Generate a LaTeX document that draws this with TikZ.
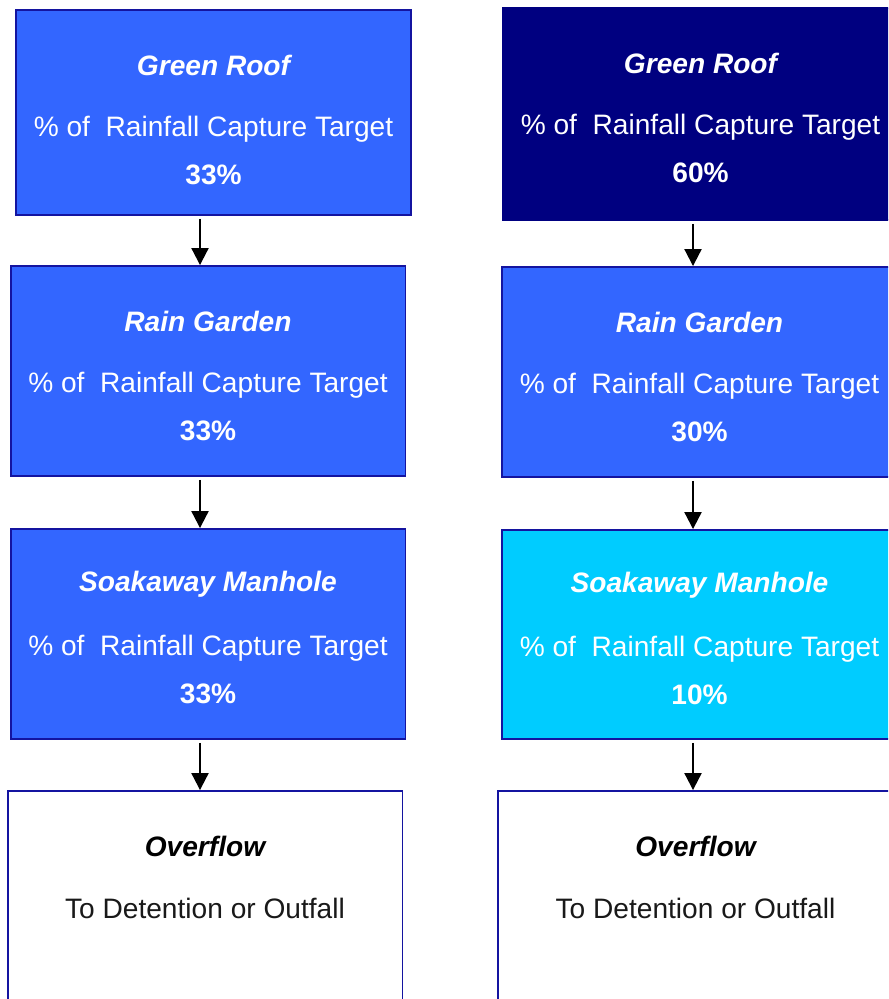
\documentclass[tikz,border=0pt]{standalone}
\usepackage{fontspec}
\setmainfont{Liberation Sans}
\usetikzlibrary{arrows.meta}
\definecolor{bmpblue}{HTML}{3366FF}
\definecolor{bmpnavy}{HTML}{000080}
\definecolor{bmpcyan}{HTML}{00CCFF}
\definecolor{bmpedge}{HTML}{1414A0}
\tikzstyle{bmp}=[rectangle,draw=bmpedge,line width=1.1pt,minimum width=7.9cm,inner sep=0pt]
\tikzstyle{bmptitle}=[font=\fontsize{16}{19}\selectfont\bfseries\itshape,text=white]
\tikzstyle{bmpbody}=[font=\fontsize{16}{19}\selectfont,text=white]
\tikzstyle{bmppct}=[font=\fontsize{16}{19}\selectfont\bfseries,text=white]
\tikzstyle{flow}=[draw,line width=1.2pt,shorten <=0.06cm,-{Triangle[length=0.34cm,width=0.34cm]}]

\begin{document}
\begin{tikzpicture}[x=0.02cm,y=-0.02cm]
    \useasboundingbox (0,0) rectangle (888,999);
    \clip (0,0) rectangle (888,999);

    % boxes, left column then right column
    \foreach \pos/\name/\h/\colour/\edge in {{(213.5,112.5)/gr1/4.1/bmpblue/bmpedge}, {(208,371)/rg1/4.2/bmpblue/bmpedge}, {(208,634)/sm1/4.2/bmpblue/bmpedge}, {(205,896)/of1/4.2/white/bmpedge},
        {(700.5,114)/gr2/4.24/bmpnavy/bmpnavy}, {(699.5,372)/rg2/4.2/bmpblue/bmpedge}, {(699.5,634.5)/sm2/4.18/bmpcyan/bmpedge}, {(695.5,896)/of2/4.2/white/bmpedge}}
        \node[bmp,fill=\colour,draw=\edge,minimum height=\h cm] (\name) at \pos {};

    % what each box says
    \foreach \name/\ttl/\val in {gr1/Green Roof/33\%, rg1/Rain Garden/33\%, sm1/Soakaway Manhole/33\%,
        gr2/Green Roof/60\%, rg2/Rain Garden/30\%, sm2/Soakaway Manhole/10\%}
    {
        \node[bmptitle] (\name-t) at ([yshift=-1.12cm]\name.north) {\ttl};
        \node[bmpbody] (\name-b) at ([yshift=-2.4cm]\name.north) {\% of\ \ Rainfall Capture Target};
        \node[bmppct] (\name-p) at ([yshift=-3.32cm]\name.north) {\val};
    }

    \foreach \name in {of1, of2}
    {
        \node[bmptitle,text=black] (\name-t) at ([yshift=-1.12cm]\name.north) {Overflow};
        \node[bmpbody,text=black!90] (\name-b) at ([yshift=-2.36cm]\name.north) {To Detention or Outfall};
    }

    % arrows down each column
    \foreach \source/\dest/\x in {gr1/rg1/200, rg1/sm1/200, sm1/of1/200, gr2/rg2/693, rg2/sm2/693, sm2/of2/693}
        \path[flow] (\source.south -| \x,0) -- (\dest.north -| \x,0);
\end{tikzpicture}
\end{document}
